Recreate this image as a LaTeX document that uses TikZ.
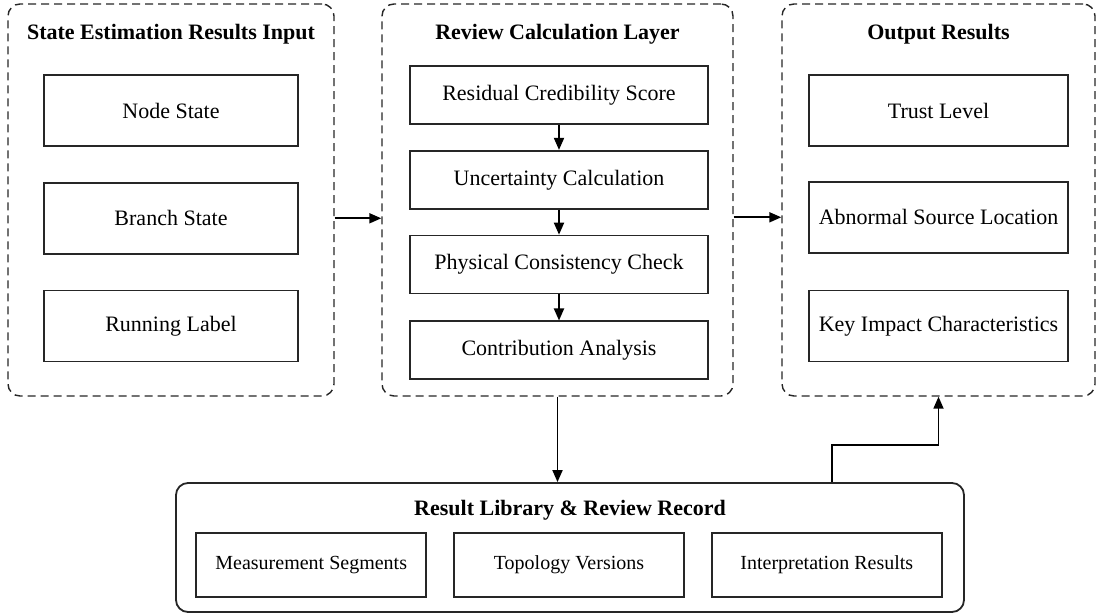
\documentclass[tikz,border=0pt]{standalone}
\usepackage{fontspec}
\setmainfont{Liberation Serif}
\usetikzlibrary{arrows.meta, positioning}
\tikzset{
	grp/.style={draw=black!85, dash pattern=on 4pt off 2.5pt, rounded corners=6pt,
		line width=0.7pt, inner sep=0pt},
	ibox/.style={draw=black!85, line width=0.9pt, inner sep=0pt, align=center,
		font=\fontsize{11}{13}\selectfont},
	lbox/.style={ibox, minimum width=127pt, minimum height=35.5pt},
	mbox/.style={ibox, minimum width=149pt, minimum height=29pt},
	rbox/.style={ibox, minimum width=129.5pt, minimum height=35.5pt},
	bbox/.style={ibox, minimum width=115pt, minimum height=32pt,
		font=\fontsize{10}{12}\selectfont},
	gtitle/.style={font=\fontsize{11}{13}\selectfont\bfseries, inner sep=0pt},
	arr/.style={-{Triangle[length=6pt,width=5pt]}, line width=0.9pt}
}

\begin{document}
\begin{tikzpicture}[x=0.5pt, y=-0.5pt]
	\useasboundingbox (0,0) rectangle (1097,614);
	% the three groups
	\node[grp, minimum width=163pt, minimum height=196pt] (inp) at (171,200) {};
	\node[grp, minimum width=175.5pt, minimum height=196pt] (rev) at (557.5,200) {};
	\node[grp, minimum width=156.5pt, minimum height=196pt] (out) at (938.5,200) {};
	\node[gtitle] (tinp) at (171,34) {State Estimation Results Input};
	\node[gtitle] (trev) at (557.5,34) {Review Calculation Layer};
	\node[gtitle] (tout) at (938.5,34) {Output Results};

	% input
	\node[lbox] (nst) at (171,110.5) {Node State};
	\node[lbox, below=17.5pt of nst] (bst) {Branch State};
	\node[lbox, below=17.5pt of bst] (rlb) {Running Label};

	% review steps
	\node[mbox] (rcs) at (559,95) {Residual Credibility Score};
	\node[mbox, below=12.5pt of rcs] (unc) {Uncertainty Calculation};
	\node[mbox, below=12.5pt of unc] (pcc) {Physical Consistency Check};
	\node[mbox, below=13pt of pcc] (cta) {Contribution Analysis};

	% output
	\node[rbox] (trl) at (938.5,110.5) {Trust Level};
	\node[rbox, below=17pt of trl] (abn) {Abnormal Source Location};
	\node[rbox, below=18pt of abn] (kic) {Key Impact Characteristics};

	% result library
	\node[draw=black!85, line width=0.9pt, rounded corners=6pt, inner sep=0pt,
		minimum width=394pt, minimum height=64.5pt] (lib) at (570,547.5) {};
	\node[gtitle] (tlib) at (570,510) {Result Library \& Review Record};
	\node[bbox] (tpv) at (569,565) {Topology Versions};
	\node[bbox, left=13pt of tpv] (msg) {Measurement Segments};
	\node[bbox, right=13pt of tpv] (irs) {Interpretation Results};

	\draw[arr] (inp.east |- bst) -- (rev.west |- bst);
	\draw[arr] (rev.east |- abn) -- (out.west |- abn);
	\foreach \a/\b in {rcs/unc, unc/pcc, pcc/cta}
		\draw[arr] (\a) -- (\b);
	\draw[arr] (rev.south) -- (rev.south |- lib.north);
	\coordinate (bend) at (832,445);
	\draw[arr] (bend |- lib.north) -- (bend) -| (out.south);
\end{tikzpicture}
\end{document}
